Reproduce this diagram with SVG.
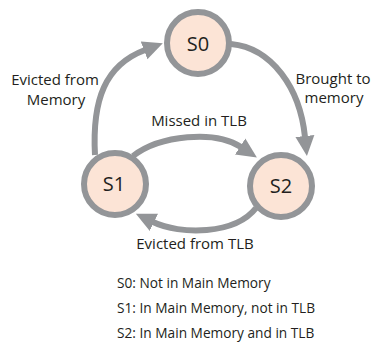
<svg xmlns="http://www.w3.org/2000/svg" width="372" height="347" viewBox="0 0 372 347">
  <style>
    .state circle { fill: #fce4d6; stroke: #939598; stroke-width: 6; }
    .state text { font-family: "Open Sans", "Noto Sans", sans-serif; font-size: 20px; fill: #231f20; text-anchor: middle; }
    .edge { fill: none; stroke: #939598; stroke-width: 6; marker-end: url(#head); }
    .lbl { font-family: "Open Sans", "Noto Sans", sans-serif; font-size: 15px; fill: #231f20; text-anchor: middle; }
    .legend { font-family: "Open Sans", "Noto Sans", sans-serif; font-size: 13.7px; fill: #231f20; }
  </style>
  <defs>
    <marker id="head" markerUnits="userSpaceOnUse" markerWidth="24" markerHeight="22" refX="1" refY="10" orient="auto">
      <path d="M0,0.5 L20,10 L0,19.5 Z" fill="#939598"/>
    </marker>
  </defs>

  <!-- transitions -->
  <g id="connectors">
    <path class="edge" d="M95,155 C92,100 105,65 145,50"/>
    <path class="edge" d="M231,44 C272,48 300,88 305,137"/>
    <path class="edge" d="M133,156 C160,135 215,130 241,147"/>
    <path class="edge" d="M256,208 C235,235 180,235 153,222"/>
  </g>

  <g id="S0" class="state">
    <circle cx="198" cy="43" r="31"/>
    <text x="198" y="51">S0</text>
  </g>
  <g id="S1" class="state">
    <circle cx="115" cy="184" r="31"/>
    <text x="114" y="191">S1</text>
  </g>
  <g id="S2" class="state">
    <circle cx="281" cy="186" r="31"/>
    <text x="281" y="193">S2</text>
  </g>

  <!-- transition labels -->
  <g id="labels">
    <text class="lbl" x="55" y="85">Evicted from</text>
    <text class="lbl" x="56" y="105">Memory</text>
    <text class="lbl" x="333" y="84">Brought to</text>
    <text class="lbl" x="334" y="103">memory</text>
    <text class="lbl" x="199" y="126">Missed in TLB</text>
    <text class="lbl" x="195" y="249">Evicted from TLB</text>
  </g>

  <!-- state key -->
  <g id="legend">
    <text class="legend" x="117" y="288">S0: Not in Main Memory</text>
    <text class="legend" x="117" y="313">S1: In Main Memory, not in TLB</text>
    <text class="legend" x="117" y="338">S2: In Main Memory and in TLB</text>
  </g>
</svg>
